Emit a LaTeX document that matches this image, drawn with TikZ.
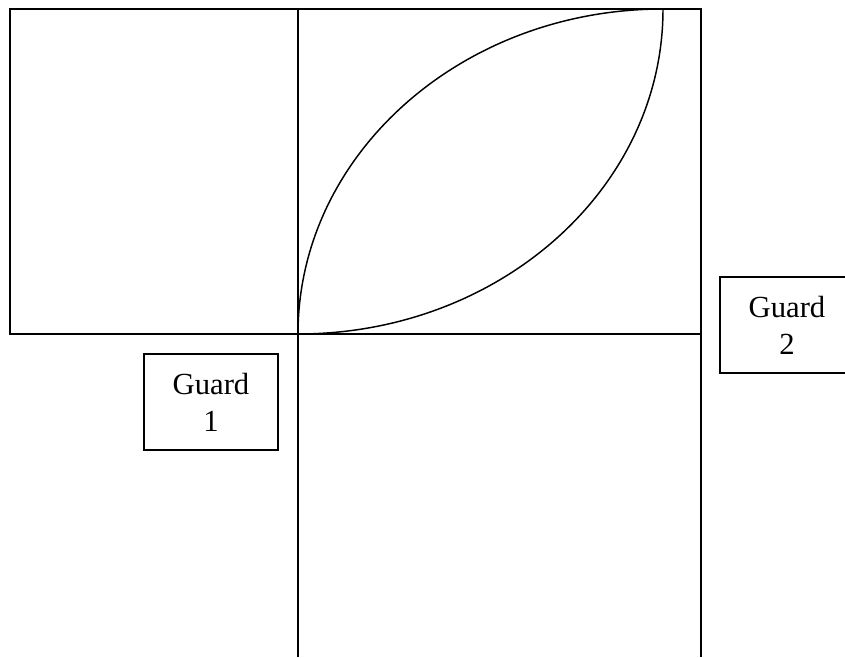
\documentclass[tikz,border=0pt]{standalone}
\usepackage{fontspec}
\setmainfont{Liberation Serif}
\usepackage{tikz}

\tikzset{
  guardbox/.style={draw, rectangle, line width=1pt, minimum width=100.5pt, minimum height=72pt,
    align=center, inner sep=0pt, font=\fontsize{23}{27.7}\selectfont}
}

\begin{document}
\begin{tikzpicture}[x=0.75pt, y=0.75pt]
            \useasboundingbox (0,0) rectangle (845,657);
            \clip (0,0) rectangle (845,657);

            % Field - squares and lines
            \draw[line width=1.4pt] (10,323) rectangle (298,648);
            \draw[line width=1.4pt] (298,0) -- (298,648) -- (701,648) -- (701,0);
            \draw[line width=1.4pt] (298,323) -- (701,323);

            % Two arcs
            \draw[line width=1.1pt] (298,323) arc[start angle=180, end angle=90, x radius=365, y radius=325];
            \draw[line width=1.1pt] (298,323) arc[start angle=-90, end angle=0, x radius=365, y radius=325];

            % Guards
            \node[guardbox] (guardone) at (211,255) {Guard\\1};
            \node[guardbox] (guardtwo) at (787,332) {Guard\\2};
        \end{tikzpicture}
\end{document}
